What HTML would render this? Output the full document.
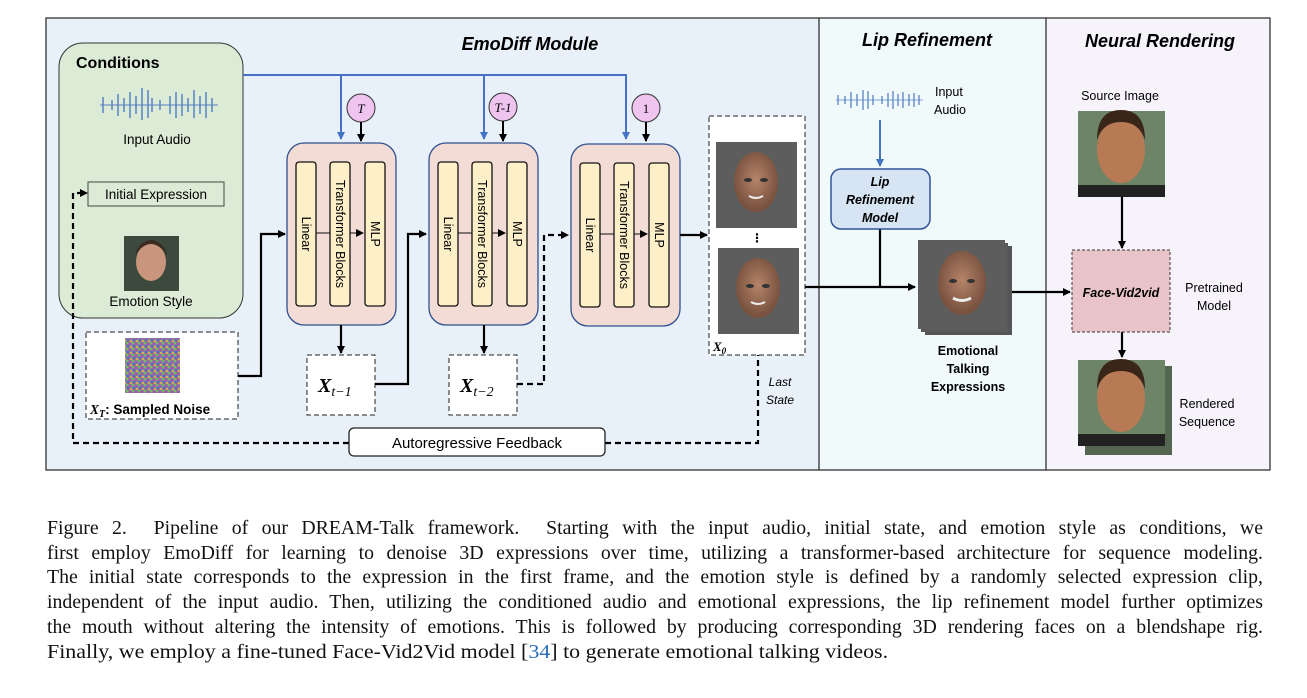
<!DOCTYPE html>
<html><head><meta charset="utf-8"><style>
body{margin:0;width:1307px;height:698px;background:#fff;position:relative;overflow:hidden}
svg{position:absolute;left:0;top:0}
.cap{position:absolute;left:47px;top:516px;width:1216px;font-family:"Liberation Serif",serif;font-size:19.8px;line-height:24.7px;text-align:justify;color:#111;white-space:nowrap}
.cap span.l{display:block;text-align-last:justify;white-space:normal}
.cap span.last{display:inline-block;transform:scaleX(1.11);transform-origin:0 0}
</style></head><body>
<svg width="1307" height="500" viewBox="0 0 1307 500" font-family="Liberation Sans, DejaVu Sans, sans-serif">
<defs>
<marker id="a" markerWidth="8" markerHeight="8" refX="7" refY="4" orient="auto" markerUnits="userSpaceOnUse"><path d="M0,0L8,4L0,8z" fill="#000"/></marker>
<marker id="b" markerWidth="8" markerHeight="8" refX="7" refY="4" orient="auto" markerUnits="userSpaceOnUse"><path d="M0,0L8,4L0,8z" fill="#4472c4"/></marker>
<pattern id="nz" width="6" height="6" patternUnits="userSpaceOnUse">
<rect width="6" height="6" fill="#8a7f9a"/><rect x="0" y="0" width="2" height="2" fill="#6cbf5a"/><rect x="3" y="1" width="2" height="2" fill="#b04ab0"/><rect x="1" y="3" width="2" height="2" fill="#4a6ad0"/><rect x="4" y="4" width="2" height="2" fill="#d0b050"/><rect x="2" y="5" width="1" height="1" fill="#d05050"/>
</pattern>
<radialGradient id="fc" cx="50%" cy="45%" r="50%"><stop offset="0" stop-color="#b58468"/><stop offset="1" stop-color="#7a5340"/></radialGradient>
</defs>
<rect x="46" y="18" width="773" height="452" fill="#e8f1f9"/>
<rect x="819" y="18" width="227" height="452" fill="#f0fafb"/>
<rect x="1046" y="18" width="224" height="452" fill="#f7f3fb"/>
<rect x="46" y="18" width="1224" height="452" fill="none" stroke="#333" stroke-width="1.3"/>
<line x1="819" y1="18" x2="819" y2="470" stroke="#333" stroke-width="1.3"/>
<line x1="1046" y1="18" x2="1046" y2="470" stroke="#333" stroke-width="1.3"/>
<g font-weight="bold" font-style="italic" font-size="18" text-anchor="middle">
<text x="530" y="50">EmoDiff Module</text><text x="927" y="46">Lip Refinement</text><text x="1160" y="47">Neural Rendering</text></g>
<rect x="59" y="43" width="184" height="275" rx="24" fill="#dcebd5" stroke="#333" stroke-width="1"/>
<text x="76" y="68" font-weight="bold" font-size="16">Conditions</text>
<g stroke="#5a82c4" stroke-width="1.5">
<line x1="100" y1="105" x2="218" y2="105" stroke-width="1"/>
<path d="M103,97v16M112,100v10M118,94v22M124,98v14M130,92v26M136,96v18M142,88v32M148,90v28M152,98v14M160,100v10M170,96v18M176,92v26M182,94v22M188,98v14M194,90v28M200,96v18M206,92v26M212,98v14"/></g>
<text x="157" y="144" font-size="13.5" text-anchor="middle">Input Audio</text>
<rect x="88" y="182" width="136" height="24" fill="none" stroke="#444" stroke-width="1"/>
<text x="156" y="199" font-size="13.5" text-anchor="middle">Initial Expression</text>
<rect x="124" y="236" width="55" height="55" fill="#3b4a3c"/>
<ellipse cx="151" cy="262" rx="15" ry="19" fill="#c9957c"/><path d="M135,255q16,-22 32,0q-4,-14 -16,-15q-12,1 -16,15z" fill="#3a2a20"/>
<text x="151" y="306" font-size="13.5" text-anchor="middle">Emotion Style</text>
<g stroke="#4472c4" stroke-width="2" fill="none">
<path d="M243,75H626V139" marker-end="url(#b)"/><path d="M341,75V139" marker-end="url(#b)"/><path d="M484,75V139" marker-end="url(#b)"/></g>
<g stroke="#333" stroke-width="1" fill="#efc5f0">
<circle cx="361" cy="108" r="14"/><circle cx="503" cy="107" r="14"/><circle cx="646" cy="108" r="14"/></g>
<g font-family="Liberation Serif,serif" font-size="13" text-anchor="middle" font-style="italic">
<text x="361" y="113">T</text><text x="503" y="112">T-1</text><text x="646" y="113" font-style="normal">1</text></g>
<g stroke="#000" stroke-width="2"><path d="M361,122V141" marker-end="url(#a)"/><path d="M503,121V141" marker-end="url(#a)"/><path d="M646,122V141" marker-end="url(#a)"/></g>
<g id="blk">
<rect x="287" y="143" width="109" height="182" rx="17" fill="#f3dcd6" stroke="#2f4f8f" stroke-width="1.3"/>
<g fill="#fdf0c8" stroke="#111" stroke-width="1.3"><rect x="296" y="162" width="20" height="144" rx="3"/><rect x="330" y="162" width="20" height="144" rx="3"/><rect x="365" y="162" width="20" height="144" rx="3"/></g>
<line x1="316" y1="233" x2="330" y2="233" stroke="#111"/><line x1="350" y1="233" x2="363" y2="233" stroke="#111" marker-end="url(#a)"/>
<g font-size="12.5" text-anchor="middle"><text transform="translate(302,234) rotate(90)">Linear</text><text transform="translate(336,234) rotate(90)">Transformer Blocks</text><text transform="translate(371,234) rotate(90)">MLP</text></g>
</g>
<use href="#blk" x="142"/><use href="#blk" x="284" y="1"/>
<rect x="86" y="332" width="152" height="87" fill="#fff" stroke="#222" stroke-dasharray="5,3"/>
<rect x="125" y="338" width="55" height="55" fill="url(#nz)"/>
<text x="90" y="414" font-size="13.5" font-weight="bold"><tspan font-family="Liberation Serif,serif" font-style="italic">X<tspan font-size="10" dy="3">T</tspan></tspan><tspan dy="-3">: Sampled Noise</tspan></text>
<rect x="307" y="355" width="68" height="60" fill="#fff" stroke="#222" stroke-dasharray="5,3"/>
<rect x="449" y="355" width="68" height="60" fill="#fff" stroke="#222" stroke-dasharray="5,3"/>
<g font-family="Liberation Serif,serif" font-weight="bold" font-style="italic" font-size="20">
<text x="318" y="392">X<tspan font-size="14" font-weight="normal" dy="4">t−1</tspan></text>
<text x="460" y="392">X<tspan font-size="14" font-weight="normal" dy="4">t−2</tspan></text></g>
<g stroke="#000" stroke-width="2.2" fill="none">
<path d="M238,376H261V234H285" marker-end="url(#a)"/>
<path d="M341,325V353" marker-end="url(#a)"/>
<path d="M375,384H408V234H426" marker-end="url(#a)"/>
<path d="M484,325V353" marker-end="url(#a)"/>
<path d="M680,235H707" marker-end="url(#a)"/>
<path d="M805,287H915" marker-end="url(#a)"/>
<path d="M880,229V287"/>
<path d="M1012,292H1070" marker-end="url(#a)"/>
<path d="M1122,197V248" marker-end="url(#a)"/>
<path d="M1122,332V357" marker-end="url(#a)"/>
</g>
<g stroke="#000" stroke-width="2.2" fill="none" stroke-dasharray="6,4">
<path d="M517,384H544V235H568" marker-end="url(#a)"/>
<path d="M605,443H758V328"/>
<path d="M349,443H73V193H87" marker-end="url(#a)"/>
</g>
<rect x="709" y="116" width="96" height="239" fill="#fff" stroke="#222" stroke-dasharray="5,3"/>
<g id="face"><rect x="716" y="142" width="81" height="86" fill="#5d5d5d"/><ellipse cx="756" cy="182" rx="22" ry="30" fill="url(#fc)"/><ellipse cx="748" cy="180" rx="4" ry="2" fill="#333"/><ellipse cx="764" cy="180" rx="4" ry="2" fill="#333"/><path d="M749,196q7,4 14,0" stroke="#eee" stroke-width="2" fill="none"/></g>
<use href="#face" x="2" y="106"/>
<text x="757" y="242" font-size="12" text-anchor="middle" font-weight="bold">⋮</text>
<text x="713" y="351" font-family="Liberation Serif,serif" font-weight="bold" font-style="italic" font-size="13">X<tspan font-size="9" dy="3">0</tspan></text>
<g font-size="12" font-style="italic" text-anchor="middle"><text x="780" y="386">Last</text><text x="780" y="404">State</text></g>
<rect x="349" y="428" width="256" height="28" rx="5" fill="#fff" stroke="#222" stroke-width="1.3"/>
<text x="477" y="448" font-size="15" text-anchor="middle">Autoregressive Feedback</text>
<g stroke="#5a82c4" stroke-width="1.3"><line x1="836" y1="100" x2="923" y2="100" stroke-width="0.8"/>
<path d="M838,95v10M845,96v8M851,92v16M857,94v12M863,90v20M868,91v18M873,95v10M882,96v8M888,93v14M893,91v18M898,94v12M903,92v16M909,94v12M914,93v14M919,95v10"/></g>
<g font-size="12.5"><text x="935" y="96">Input</text><text x="934" y="114">Audio</text></g>
<path d="M880,120V166" stroke="#4472c4" stroke-width="2" marker-end="url(#b)"/>
<rect x="831" y="169" width="99" height="60" rx="10" fill="#d6e4f3" stroke="#2f5597" stroke-width="1.5"/>
<g font-size="12.5" font-weight="bold" font-style="italic" text-anchor="middle"><text x="880" y="186">Lip</text><text x="880" y="204">Refinement</text><text x="880" y="222">Model</text></g>
<rect x="925" y="246" width="87" height="89" fill="#555"/><rect x="921" y="243" width="87" height="89" fill="#5a5a5a"/>
<rect x="918" y="240" width="87" height="89" fill="#5d5d5d"/>
<ellipse cx="962" cy="283" rx="24" ry="32" fill="url(#fc)"/><ellipse cx="953" cy="281" rx="4" ry="2" fill="#333"/><ellipse cx="971" cy="281" rx="4" ry="2" fill="#333"/><path d="M953,298q9,5 18,0" stroke="#eee" stroke-width="3" fill="none"/>
<g font-size="12.5" font-weight="bold" text-anchor="middle"><text x="968" y="355">Emotional</text><text x="968" y="373">Talking</text><text x="968" y="391">Expressions</text></g>
<text x="1120" y="100" font-size="12.5" text-anchor="middle">Source Image</text>
<g id="man"><rect x="1078" y="111" width="87" height="86" fill="#6e8466"/><ellipse cx="1121" cy="150" rx="24" ry="33" fill="#b77a55"/><path d="M1097,140q0,-30 24,-30q24,0 24,30q-6,-18 -24,-18q-18,0 -24,18z" fill="#3a2618"/><rect x="1078" y="185" width="87" height="12" fill="#222"/></g>
<rect x="1072" y="250" width="98" height="82" fill="#e8c4c8" stroke="#333" stroke-dasharray="3,2"/>
<text x="1121" y="297" font-size="12.5" font-weight="bold" font-style="italic" text-anchor="middle">Face-Vid2vid</text>
<g font-size="12.5" text-anchor="middle"><text x="1214" y="292">Pretrained</text><text x="1214" y="310">Model</text>
<text x="1207" y="408">Rendered</text><text x="1207" y="426">Sequence</text></g>
<rect x="1085" y="366" width="87" height="89" fill="#556650"/>
<use href="#man" x="0" y="249"/>
</svg>
<div class="cap"><span class="l">Figure 2.&nbsp; Pipeline of our DREAM-Talk framework.&nbsp; Starting with the input audio, initial state, and emotion style as conditions, we</span><span class="l">first employ EmoDiff for learning to denoise 3D expressions over time, utilizing a transformer-based architecture for sequence modeling.</span><span class="l">The initial state corresponds to the expression in the first frame, and the emotion style is defined by a randomly selected expression clip,</span><span class="l">independent of the input audio. Then, utilizing the conditioned audio and emotional expressions, the lip refinement model further optimizes</span><span class="l">the mouth without altering the intensity of emotions. This is followed by producing corresponding 3D rendering faces on a blendshape rig.</span><span class="last">Finally, we employ a fine-tuned Face-Vid2Vid model [<span style="color:#2a6db5">34</span>] to generate emotional talking videos.</span></div>
</body></html>
